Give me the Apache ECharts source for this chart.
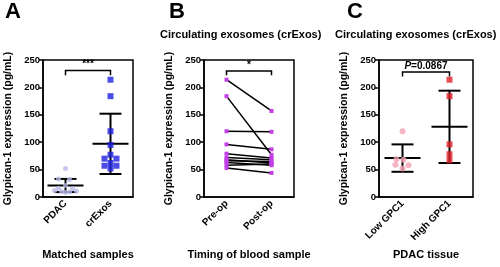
<!DOCTYPE html>
<html>
<head>
<meta charset="utf-8">
<script src="https://cdn.jsdelivr.net/npm/echarts@6/dist/echarts.min.js"></script>
<style>
    html, body { margin: 0; padding: 0; background: #fff; }
    #main { width: 500px; height: 267px; }
</style>
</head>
<body>
<div id="main"></div>
<script>
// panel A - matched samples
var catsA = ['PDAC', 'crExos'];
var pdacVals = [52, 33, 32, 21, 16, 15, 12, 11, 10, 9, 8];
var pdacJitter = [0, -7, 4, 0, -7, 7, -11, 11, -4, 4, 0];
var crexosVals = [214, 184, 120, 95, 77, 70, 70, 62, 57, 57, 52];
var crexosJitter = [0, 0, 0, 0, 0, -6, 6, 0, -6, 6, 0];
var meanA = [21, 97];
var sdA = [12, 55];

// panel B - pre-op vs post-op pairs
var catsB = ['Pre-op', 'Post-op'];
var preOp = [214, 184, 120, 96, 79, 72, 68, 66, 63, 58, 53];
var postOp = [157, 77, 119, 87, 71, 68, 62, 65, 58, 60, 44];

// panel C - PDAC tissue
var catsC = ['Low GPC1', 'High GPC1'];
var lowVals = [120, 69, 68, 59, 58, 52];
var lowJitter = [0, -6, 1, -7, 6, 0];
var highVals = [214, 184, 96, 78, 67];
var meanC = [71, 128];
var sdC = [25, 66];

var yTicks = [0, 50, 100, 150, 200, 250];
var font = 'Liberation Sans, Arial, sans-serif';

var myChart = echarts.init(document.getElementById('main'));

function makeGrid(left, width) {
    return {
        left: left, width: width, top: 60, height: 137,
        show: true, borderColor: '#000', borderWidth: 1.5, backgroundColor: 'transparent'
    };
}

function makeX(idx, cats, name) {
    return {
        type: 'category', gridIndex: idx, data: cats, boundaryGap: true,
        name: name, nameLocation: 'middle', nameGap: 52,
        nameTextStyle: {fontSize: 11, fontWeight: 'bold', color: '#000', fontFamily: font},
        axisLine: {lineStyle: {color: '#000', width: 1.5}},
        axisTick: {alignWithLabel: true, length: 4, lineStyle: {color: '#000', width: 1.5}},
        axisLabel: {rotate: 45, margin: 5, fontSize: 10, fontWeight: 'bold', color: '#000', fontFamily: font}
    };
}

function makeY(idx) {
    return {
        type: 'value', gridIndex: idx, min: yTicks[0], max: yTicks[yTicks.length - 1], interval: 50,
        name: 'Glypican-1 expression (pg/mL)', nameLocation: 'middle', nameGap: 29,
        nameTextStyle: {fontSize: 10.5, fontWeight: 'bold', color: '#000', fontFamily: font},
        splitLine: {show: false},
        axisLine: {show: true, lineStyle: {color: '#000', width: 1.5}},
        axisTick: {show: true, length: 4, lineStyle: {color: '#000', width: 1.5}},
        axisLabel: {margin: 3, fontSize: 9.5, fontWeight: 'bold', color: '#000', fontFamily: font}
    };
}

function scatterDataCat(cat, vals, jitter) {
    return vals.map(function (v, i) {
        return {value: [cat, v], symbolOffset: [jitter ? jitter[i] : 0, 0]};
    });
}

// mean +/- SD bars
function errorSeries(idx, means, sds) {
    return {
        type: 'custom', xAxisIndex: idx, yAxisIndex: idx, z: 1,
        data: means.map(function (m, i) { return [i, m, sds[i]]; }),
        renderItem: function (params, api) {
            var c = api.coord([api.value(0), api.value(1)]);
            var hi = api.coord([api.value(0), api.value(1) + api.value(2)]);
            var lo = api.coord([api.value(0), api.value(1) - api.value(2)]);
            var st = {stroke: '#000', lineWidth: 2};
            return {
                type: 'group',
                children: [
                    {type: 'line', shape: {x1: c[0] - 18, y1: c[1], x2: c[0] + 18, y2: c[1]}, style: st},
                    {type: 'line', shape: {x1: c[0], y1: hi[1], x2: c[0], y2: lo[1]}, style: st},
                    {type: 'line', shape: {x1: c[0] - 11, y1: hi[1], x2: c[0] + 11, y2: hi[1]}, style: st},
                    {type: 'line', shape: {x1: c[0] - 11, y1: lo[1], x2: c[0] + 11, y2: lo[1]}, style: st}
                ]
            };
        }
    };
}

// significance bracket
function bracketSeries(idx, yTop, yEnd, label) {
    return {
        type: 'custom', xAxisIndex: idx, yAxisIndex: idx, z: 6,
        data: [[0, 1, yTop, yEnd]],
        renderItem: function (params, api) {
            var a = api.coord([0, api.value(2)]);
            var b = api.coord([1, api.value(2)]);
            var e = api.coord([0, api.value(3)]);
            return {
                type: 'group',
                children: [
                    {type: 'polyline', shape: {points: [[a[0], e[1]], [a[0], a[1]], [b[0], b[1]], [b[0], e[1]]]},
                        style: {stroke: '#000', lineWidth: 1.5, fill: null}},
                    {type: 'text', x: (a[0] + b[0]) / 2, y: a[1] - 1,
                        style: {text: label, textAlign: 'center', textVerticalAlign: 'bottom',
                            fontSize: 10, fontWeight: 'bold', fill: '#000', fontFamily: font,
                            rich: {i: {fontStyle: 'italic', fontSize: 10, fontWeight: 'bold', fontFamily: font}}}}
                ]
            };
        }
    };
}

var series = [];
series.push({
    type: 'scatter', xAxisIndex: 0, yAxisIndex: 0, symbol: 'circle', symbolSize: 5, z: 3,
    itemStyle: {color: '#b9b9ea'}, data: scatterDataCat(0, pdacVals, pdacJitter)
});
series.push({
    type: 'scatter', xAxisIndex: 0, yAxisIndex: 0, symbol: 'rect', symbolSize: 6, z: 3,
    itemStyle: {color: '#1f1fe0'}, data: scatterDataCat(1, crexosVals, crexosJitter)
});
series.push(errorSeries(0, meanA, sdA));
series.push(bracketSeries(0, 231, 222, '***'));

preOp.forEach(function (v, i) {
    series.push({
        type: 'line', xAxisIndex: 1, yAxisIndex: 1, symbol: 'rect', symbolSize: 4,
        lineStyle: {color: '#000', width: 1.5},
        itemStyle: {color: '#c23fe6'},
        data: [[0, v], [1, postOp[i]]]
    });
});
series.push(bracketSeries(1, 230, 222, '*'));

series.push({
    type: 'scatter', xAxisIndex: 2, yAxisIndex: 2, symbol: 'circle', symbolSize: 6, z: 3,
    itemStyle: {color: '#f2a3b3'}, data: scatterDataCat(0, lowVals, lowJitter)
});
series.push({
    type: 'scatter', xAxisIndex: 2, yAxisIndex: 2, symbol: 'rect', symbolSize: 6, z: 3,
    itemStyle: {color: '#e21f2b'}, data: scatterDataCat(1, highVals)
});
series.push(errorSeries(2, meanC, sdC));
series.push(bracketSeries(2, 228, 220, '{i|P}=0.0867'));

myChart.setOption({
    animation: false,
    title: [
        {text: 'A', left: 0, top: -4, textStyle: {fontSize: 22, fontWeight: 'bold', color: '#000', fontFamily: font}},
        {text: 'B', left: 164, top: -4, textStyle: {fontSize: 22, fontWeight: 'bold', color: '#000', fontFamily: font}},
        {text: 'C', left: 342, top: -4, textStyle: {fontSize: 22, fontWeight: 'bold', color: '#000', fontFamily: font}},
        {text: 'Circulating exosomes (crExos)', left: 155, top: 24, textStyle: {fontSize: 11, fontWeight: 'bold', color: '#000', fontFamily: font}},
        {text: 'Circulating exosomes (crExos)', left: 330, top: 24, textStyle: {fontSize: 11, fontWeight: 'bold', color: '#000', fontFamily: font}}
    ],
    grid: [makeGrid(43, 90), makeGrid(204, 90), makeGrid(379, 94)],
    xAxis: [
        makeX(0, catsA, 'Matched samples'),
        makeX(1, catsB, 'Timing of blood sample'),
        makeX(2, catsC, 'PDAC tissue')
    ],
    yAxis: [makeY(0), makeY(1), makeY(2)],
    series: series
});
</script>
</body>
</html>
